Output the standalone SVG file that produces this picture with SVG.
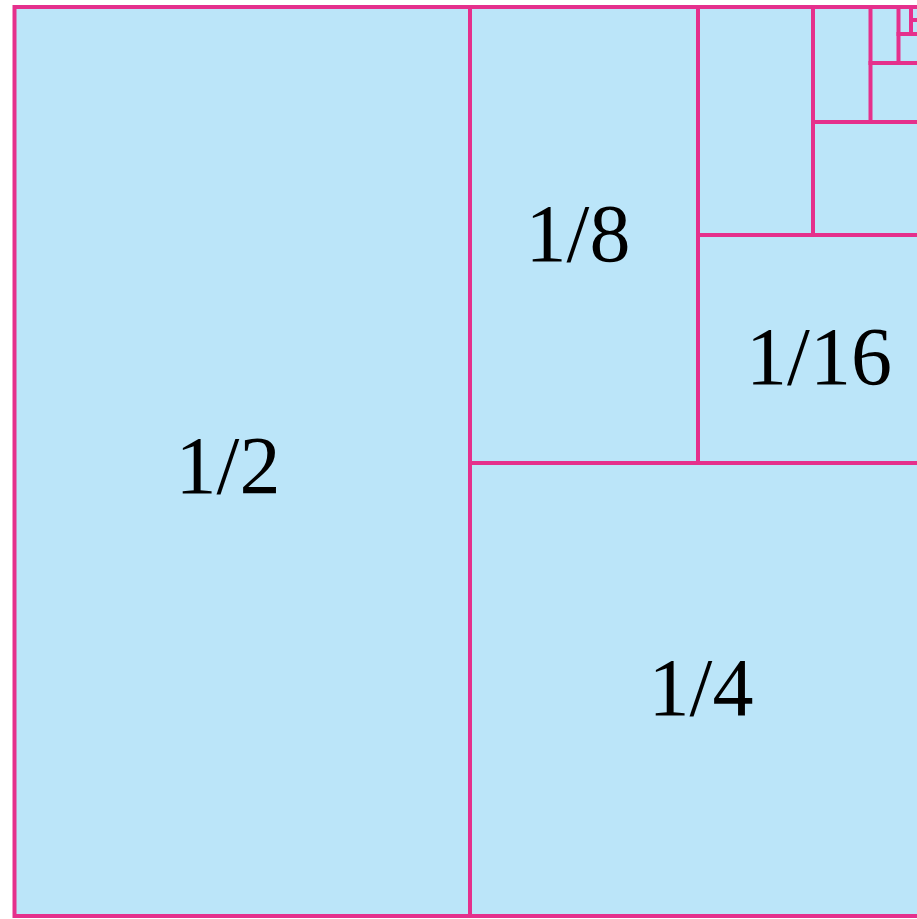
<svg xmlns="http://www.w3.org/2000/svg" width="917" height="919" viewBox="0 0 917 919">
  <style>
    .cell { fill: #bbe5f9; stroke: none; }
    .edge { stroke: #e5308c; stroke-width: 4; fill: none; stroke-linecap: square; }
    .lbl { font-family: "Liberation Serif", "Times New Roman", serif; font-size: 82px; fill: #000; text-anchor: middle; }
  </style>
  <rect width="917" height="919" fill="#ffffff"/>
  <!-- background square -->
  <rect class="cell" x="14.5" y="7" width="915" height="909"/>

  <!-- dividing lines of the halving square -->
  <g id="connectors">
    <rect class="edge" x="14.5" y="7" width="915" height="909"/>
    <line class="edge" x1="470" y1="7" x2="470" y2="916"/>
    <line class="edge" x1="470" y1="463" x2="930" y2="463"/>
    <line class="edge" x1="698" y1="7" x2="698" y2="463"/>
    <line class="edge" x1="698" y1="235" x2="930" y2="235"/>
    <line class="edge" x1="813" y1="7" x2="813" y2="235"/>
    <line class="edge" x1="813" y1="122" x2="930" y2="122"/>
    <line class="edge" x1="870.5" y1="7" x2="870.5" y2="122"/>
    <line class="edge" x1="870.5" y1="63" x2="930" y2="63"/>
    <line class="edge" x1="898.5" y1="7" x2="898.5" y2="63"/>
    <line class="edge" x1="898.5" y1="34" x2="930" y2="34"/>
    <line class="edge" x1="911" y1="7" x2="911" y2="34"/>
    <line class="edge" x1="911" y1="20" x2="930" y2="20"/>
  </g>

  <g id="half"><text class="lbl" x="228" y="493">1/2</text></g>
  <g id="quarter"><text class="lbl" x="701" y="715">1/4</text></g>
  <g id="eighth"><text class="lbl" x="578" y="261">1/8</text></g>
  <g id="sixteenth"><text class="lbl" x="819" y="384">1/16</text></g>
</svg>
